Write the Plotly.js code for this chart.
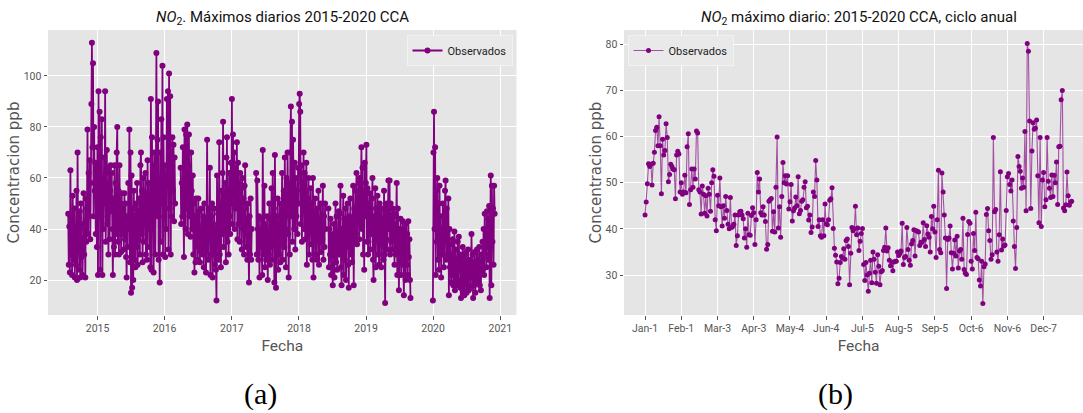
<!DOCTYPE html>
<html>
<head>
<meta charset="utf-8">
<script src="https://cdn.plot.ly/plotly-3.0.1.min.js"></script>
<style>
html, body { margin:0; padding:0; overflow:hidden; background:#fff; }
#chart { width:1093px; height:413px; }
</style>
</head>
<body>
<div id="chart"></div>
<script>
// ---------- Data: (a) daily maxima 2014-2020, values every 3 days per continuous segment ----------
const stepDays = 3;
const seg1Start = '2014-07-25';
const seg1 = [
  46,26,41,23,63,30,45,22,53,35,
  28,48,21,40,26,55,20,70,31,44,
  24,47,21,50,29,36,22,42,54,30,
  40,21,52,35,48,79,38,62,45,67,
  36,58,89,113,72,105,45,80,55,66,
  38,64,33,72,22,94,48,86,24,76,
  45,83,22,60,40,68,50,94,35,62,
  71,42,58,30,64,36,55,65,47,62,
  40,22,52,33,65,30,58,38,70,80,
  35,55,30,65,42,50,31,54,38,48,
  44,32,54,36,50,29,21,45,33,58,
  40,79,27,70,15,61,17,48,20,55,
  28,45,25,50,33,58,26,47,36,52,
  30,65,70,38,55,27,60,35,50,42,
  62,30,54,28,67,40,58,33,48,25,
  91,24,76,40,65,23,70,52,30,62,
  109,45,75,90,28,60,19,70,35,83,
  50,104,30,76,45,65,29,58,40,91,
  60,94,32,101,48,92,30,70,45,76,
  55,73,43,68,50
];
const seg2Start = '2016-03-28';
const seg2 = [
  64,42,58,45,72,50,29,79,55,40,
  77,48,81,38,65,77,45,60,37,70,
  55,40,61,30,50,23,45,27,52,35,
  42,28,52,33,47,27,40,31,48,36,
  30,45,25,50,34,44,23,38,75,40,
  28,48,36,64,22,45,30,50,21,42,
  33,48,26,40,24,12,61,35,46,28,
  74,30,45,25,55,38,62,82,33,50,
  40,58,27,68,76,35,55,30,62,45,
  38,66,50,91,42,77,55,70,40,64,
  48,60,74,36,66,42,58,35,62,45,
  56,32,60,40,52,30,57,65,48,33,
  44,28,50,35,19,45,30,52,28,40
];
const seg3Start = '2017-05-13';
const seg3 = [
  62,30,59,40,28,45,21,38,33,44,
  35,22,71,30,42,57,25,40,28,36,
  45,20,38,30,50,26,44,33,56,28,
  62,35,48,19,69,40,17,45,30,52,
  24,42,30,50,27,45,35,62,28,48,
  55,33,68,40,25,60,45,70,38,21,
  58,30,70,88,45,82,35,75,50,40,
  66,32,60,45,55,38,64,50,89,93,
  86,42,65,35,58,47,70,40,62,36,
  55,66,26,52,38,60,30,48,42,56,
  34,50,28,60,21,45,36,52,30,46,
  28,48,38,55,26,44,35,50,31,42,
  36,57,28,45,33,50,40
];
const seg4Start = '2018-06-10';
const seg4 = [
  48,25,40,30,44,22,36,28,18,38,
  42,21,35,50,27,45,24,38,32,47,
  30,46,57,25,18,40,35,53,22,44,
  28,48,20,42,33,50,26,17,45,35,
  52,30,44,27,40,57,18,48,36,55,
  38,62,34,50,45,58,36,60,42,54,
  72,40,64,30,55,24,66,45,58,73,
  35,56,30,50,42,54,32,48,38,52,
  60,28,20,45,35,56,25,48,40,53,
  30,46,26,50,38,44,25,48,34,42,
  28,55,30,11,48,36,50,32,45,59,
  40,59,30,50,35,44,32,48,38,46,
  26,42,30,45,58,22,48,35,16,40,
  28,44,22,38,30,43,26,14,40,32,
  20,42,26,38,22,43,29,36,20,13
];
const seg5Start = '2019-12-31';
const seg5 = [
  12,70,86,40,72,22,55,35,60,28,
  50,24,57,32,45,21,40,30,50,38,
  25,45,55,59,28,48,38,30,52,14,
  40,25,34,19,30,22,36,18,28,39,
  16,32,22,28,18,35,20,37,24,30,
  17,13,29,19,33,16,27,14,30,20,
  31,15,26,18,32,16,28,21,25,17,
  38,22,30,13,27,18,31,15,24,20,
  32,19,28,22,33,18,26,16,30,23,
  35,24,40,22,46,30,38,25,47,33,
  44,28,49,13,40,61,18,57,35,48,
  26,57,46
];
const yearTickVals = ['2015-01-01','2016-01-01','2017-01-01','2018-01-01','2019-01-01','2020-01-01','2021-01-01'];
const yearTickText = ['2015','2016','2017','2018','2019','2020','2021'];

// ---------- Data: (b) annual cycle, one value per day of a leap year ----------
const annualStart = '2020-01-01';
const annualValues = [
  43.0,45.8,49.8,54.1,53.5,54.0,49.5,54.2,56.6,61.3,62.0,58.0,64.3,
  58.0,47.6,59.4,56.0,57.0,62.8,
  59.8,50.2,51.8,54.0,53.5,53.0,52.8,46.5,
  56.0,56.8,56.2,48.0,50.0,47.5,48.0,51.6,47.8,57.8,
  60.6,45.3,48.5,53.0,49.0,53.0,50.8,61.2,
  60.8,48.5,48.0,43.2,49.3,47.5,43.4,47.2,42.8,48.8,47.5,43.8,50.0,52.8,
  51.4,42.0,39.6,
  47.3,45.0,51.0,44.8,40.6,45.0,42.3,47.0,44.0,41.0,40.0,46.8,40.3,40.5,41.0,43.0,36.4,
  38.5,43.0,43.7,43.8,43.0,42.2,38.0,40.0,36.0,43.4,38.7,38.6,
  42.9,44.6,43.5,36.6,42.0,52.2,
  48.0,50.8,43.5,43.0,44.8,43.0,41.6,35.6,
  36.6,46.0,46.3,46.6,39.5,43.7,39.3,49.0,59.9,
  40.2,44.8,38.2,47.0,54.4,
  50.0,51.5,49.7,51.5,44.3,45.9,49.6,41.7,43.9,44.5,46.9,45.0,51.3,
  43.3,44.0,46.0,46.3,49.0,50.2,44.6,44.9,41.9,43.0,39.2,40.4,48.0,47.0,54.8,
  50.6,40.5,42.0,38.5,38.2,42.0,38.5,45.4,41.1,40.9,42.0,46.2,46.5,48.9,
  40.1,35.8,34.3,32.8,28.1,
  29.3,32.7,34.0,33.7,35.7,33.4,37.5,37.8,36.2,27.9,
  34.7,40.3,39.6,40.0,44.9,
  38.7,40.2,35.3,37.3,39.0,40.1,32.3,
  28.8,32.7,30.0,26.5,
  30.4,33.2,28.3,35.0,33.4,30.6,28.2,34.4,31.9,27.9,30.7,31.0,35.3,36.0,40.2,
  35.2,35.9,33.2,32.0,32.8,30.9,32.8,33.0,33.0,35.0,34.2,34.6,35.2,41.2,
  32.3,33.8,34.0,40.3,35.5,33.2,32.1,36.7,37.5,39.8,34.1,39.6,39.5,39.3,36.4,37.1,37.1,41.3,37.7,36.2,40.7,38.9,38.2,35.0,42.7,40.0,44.9,
  39.3,33.8,42.0,52.7,
  35.5,34.8,52.1,48.0,43.0,38.0,27.1,
  37.7,38.0,40.6,34.8,31.3,34.7,37.6,34.1,38.4,31.5,35.2,35.5,33.4,42.3,
  31.2,30.4,30.1,38.8,41.6,41.2,33.0,31.3,39.0,35.3,43.6,
  33.8,33.5,28.9,27.6,33.0,23.8,
  31.8,32.4,43.1,44.4,39.6,37.5,33.4,34.4,59.8,
  43.7,44.2,35.0,33.0,38.7,52.4,
  35.4,37.8,36.3,36.5,44.0,51.3,
  52.0,49.6,48.2,50.6,41.7,36.2,31.4,
  40.3,55.7,53.5,52.5,48.8,51.0,49.0,61.1,
  43.9,80.2,78.5,63.4,44.4,56.9,63.0,61.6,61.8,63.6,51.5,41.3,59.8,40.5,50.6,52.2,44.8,46.3,59.8,
  50.3,48.8,46.8,51.7,47.0,51.6,50.0,54.5,45.3,57.8,57.9,68.0,70.0,
  44.5,43.9,45.2,52.3,47.2,45.1,45.8,46.0
];
const annualTickVals = ['2020-01-01','2020-02-01','2020-03-03','2020-04-03','2020-05-04','2020-06-04','2020-07-05','2020-08-05','2020-09-05','2020-10-06','2020-11-06','2020-12-07'];
const annualTickText = ['Jan-1','Feb-1','Mar-3','Apr-3','May-4','Jun-4','Jul-5','Aug-5','Sep-5','Oct-6','Nov-6','Dec-7'];

const seriesName = 'Observados';

// ---------- helpers ----------
function addDays(iso, n) {
  const p = iso.split('-').map(Number);
  const d = new Date(Date.UTC(p[0], p[1]-1, p[2]) + n*86400000);
  return d.toISOString().slice(0,10);
}
function buildSegments(list) {
  const x = [], y = [];
  list.forEach(function(s, k) {
    s.values.forEach(function(v, i) { x.push(addDays(s.start, i*stepDays)); y.push(v); });
    if (k < list.length-1) { x.push(addDays(s.start, s.values.length*stepDays)); y.push(null); }
  });
  return {x:x, y:y};
}
const dailyData = buildSegments([
  {start:seg1Start, values:seg1},
  {start:seg2Start, values:seg2},
  {start:seg3Start, values:seg3},
  {start:seg4Start, values:seg4},
  {start:seg5Start, values:seg5}
]);
const annualX = annualValues.map(function(v,i){ return addDays(annualStart, i); });

// ---------- styling ----------
const W = 1093, H = 413;
const narrow = 'Roboto, sans-serif';
const dejavu = 'DejaVu Sans, sans-serif';
const grey = '#555555';
const purple = 'rgb(128,0,128)';

const traces = [
  {
    type:'scatter', mode:'lines+markers', name:seriesName,
    x:dailyData.x, y:dailyData.y, connectgaps:false,
    xaxis:'x', yaxis:'y', legend:'legend',
    line:{color:'rgb(128,0,128)', width:1.8},
    marker:{color:purple, size:6}
  },
  {
    type:'scatter', mode:'lines+markers', name:seriesName,
    x:annualX, y:annualValues,
    xaxis:'x2', yaxis:'y2', legend:'legend2',
    line:{color:'rgba(128,0,128,0.65)', width:1.1},
    marker:{color:purple, size:5}
  }
];

const ydom = [98/H, 383/H];
function axisBase() {
  return {
    showgrid:true, gridcolor:'#ffffff', gridwidth:1,
    zeroline:false, showline:false,
    ticks:'outside', ticklen:3.5, tickwidth:1, tickcolor:grey,
    tickfont:{family:narrow, size:10.5, color:grey},
    fixedrange:true
  };
}

const layout = {
  width:W, height:H,
  margin:{l:0, r:0, t:0, b:0},
  paper_bgcolor:'#ffffff', plot_bgcolor:'#E5E5E5',
  showlegend:true,
  xaxis: Object.assign(axisBase(), {
    domain:[48/W, 516.5/W], anchor:'y', type:'date',
    range:['2014-04-06','2021-03-30'],
    tickmode:'array', tickvals:yearTickVals, ticktext:yearTickText,
    title:{text:'Fecha', font:{family:narrow, size:15.5, color:grey}, standoff:6}
  }),
  yaxis: Object.assign(axisBase(), {
    domain:ydom, anchor:'x',
    range:[6.3, 118],
    tickmode:'array', tickvals:[20,40,60,80,100],
    title:{text:'Concentracion ppb', font:{family:dejavu, size:15, color:grey}, standoff:0}
  }),
  xaxis2: Object.assign(axisBase(), {
    domain:[624/W, 1], anchor:'y2', type:'date',
    range:['2019-12-14','2021-01-18 06:00'],
    tickmode:'array', tickvals:annualTickVals, ticktext:annualTickText,
    title:{text:'Fecha', font:{family:narrow, size:15.5, color:grey}, standoff:6}
  }),
  yaxis2: Object.assign(axisBase(), {
    domain:ydom, anchor:'x2',
    range:[21.33, 83.1],
    tickmode:'array', tickvals:[30,40,50,60,70,80],
    title:{text:'Concentracion ppb', font:{family:dejavu, size:15, color:grey}, standoff:0}
  }),
  legend:{
    x:512.5/W, xanchor:'right', y:(H-35)/H, yanchor:'top',
    bgcolor:'#E9E9E9', bordercolor:'#F2F2F2', borderwidth:1,
    font:{family:narrow, size:11, color:'#222222'}, itemwidth:30
  },
  legend2:{
    x:627.5/W, xanchor:'left', y:(H-35)/H, yanchor:'top',
    bgcolor:'#E9E9E9', bordercolor:'#F2F2F2', borderwidth:1,
    font:{family:narrow, size:11, color:'#222222'}, itemwidth:30
  },
  annotations:[
    {text:'<i>NO</i><sub>2</sub>. Máximos diarios 2015-2020 CCA', xref:'paper', yref:'paper',
     x:282.3/W, y:(H-18)/H, xanchor:'center', yanchor:'middle', showarrow:false,
     font:{family:narrow, size:15, color:'#111111'}},
    {text:'<i>NO</i><sub>2</sub> máximo diario: 2015-2020 CCA, ciclo anual', xref:'paper', yref:'paper',
     x:858.5/W, y:(H-18)/H, xanchor:'center', yanchor:'middle', showarrow:false,
     font:{family:narrow, size:15, color:'#111111'}},
    {text:'(a)', xref:'paper', yref:'paper', x:260/W, y:(H-394)/H, xanchor:'center', yanchor:'middle',
     showarrow:false, font:{family:'Liberation Serif, DejaVu Serif, serif', size:30, color:'#000000'}},
    {text:'(b)', xref:'paper', yref:'paper', x:835/W, y:(H-394)/H, xanchor:'center', yanchor:'middle',
     showarrow:false, font:{family:'Liberation Serif, DejaVu Serif, serif', size:30, color:'#000000'}}
  ]
};

Plotly.newPlot('chart', traces, layout, {displayModeBar:false, staticPlot:true});
</script>
</body>
</html>
